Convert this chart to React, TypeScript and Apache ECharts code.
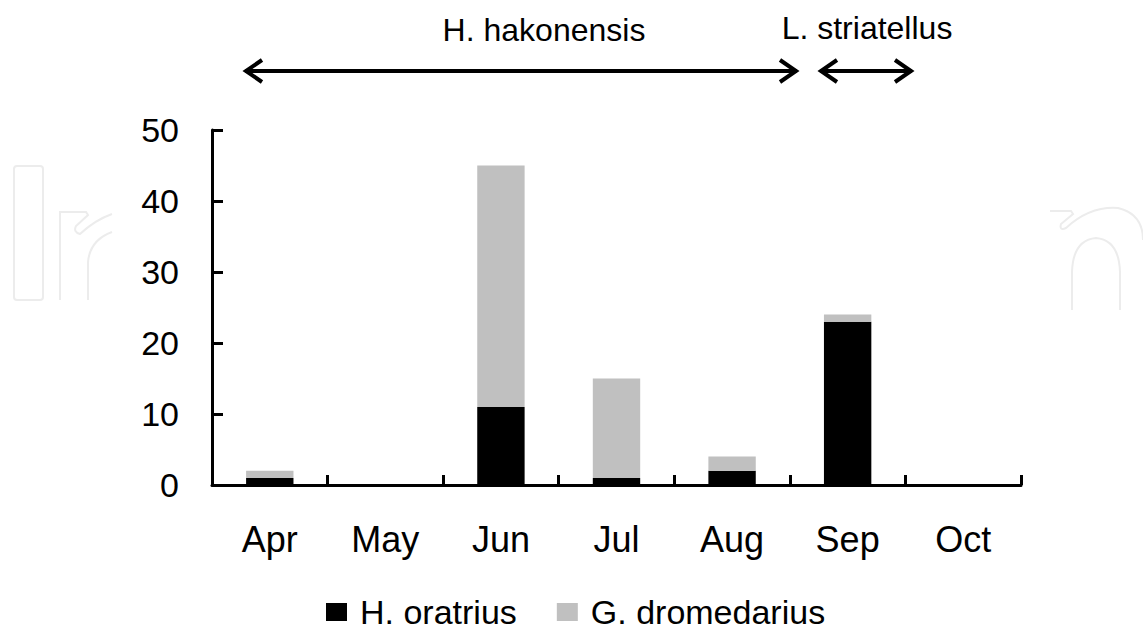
import React, { useEffect, useRef } from "react";
import * as echarts from "echarts";

const months = ["Apr", "May", "Jun", "Jul", "Aug", "Sep", "Oct"];
const hOratrius = [1, 0, 11, 1, 2, 23, 0];
const gDromedarius = [1, 0, 34, 14, 2, 1, 0];
const seriesNames = ["H. oratrius", "G. dromedarius"];
const yTicks = { min: 0, max: 50, interval: 10 };
const topLabels = ["H. hakonensis", "L. striatellus"];

const FONT = "'Liberation Sans', Arial, sans-serif";

echarts.graphic.registerShape(
  "wmR",
  echarts.graphic.extendPath(
    "M60 300 L60 212 L86 212 L88 215 L76 226 Q73 232 80 234 Q95 220 112 214 M88 300 L88 262 Q90 240 112 232",
    {}
  )
);
echarts.graphic.registerShape(
  "wmN",
  echarts.graphic.extendPath(
    "M1050 211 L1071 211 L1073 214 L1061 224 Q1059 231 1066 228 Q1090 206 1118 208 Q1143 214 1143 240 M1072 310 L1072 272 Q1073 240 1096 238 Q1119 240 1120 272 L1120 310",
    {}
  )
);

export default function App() {
  const ref = useRef<HTMLDivElement>(null);
  useEffect(() => {
    if (!ref.current) return;
    const chart = echarts.init(ref.current, null, { renderer: "svg" });
    const arrowStyle = { stroke: "#000", lineWidth: 4, fill: "none", lineJoin: "miter" };
    const y0 = 71;
    const arrow = (x1: number, x2: number) => [
      { type: "line", shape: { x1, y1: y0, x2, y2: y0 }, style: arrowStyle },
      {
        type: "polyline",
        shape: { points: [[x1 + 17, y0 - 11], [x1 + 1, y0], [x1 + 17, y0 + 11]] },
        style: arrowStyle,
      },
      {
        type: "polyline",
        shape: { points: [[x2 - 17, y0 - 11], [x2 - 1, y0], [x2 - 17, y0 + 11]] },
        style: arrowStyle,
      },
    ];
    const wm = { stroke: "#ececec", lineWidth: 2, fill: "none" };
    chart.setOption({
      animation: false,
      backgroundColor: "#fff",
      textStyle: { fontFamily: FONT },
      grid: { left: 212, right: 122, top: 130, bottom: 149 },
      legend: {
        data: seriesNames,
        left: 321,
        top: 590,
        icon: "rect",
        itemWidth: 21,
        itemHeight: 18,
        itemGap: 40,
        textStyle: { fontSize: 34, color: "#000", fontFamily: FONT, padding: [0, 0, 0, 8] },
      },
      xAxis: {
        type: "category",
        data: months,
        boundaryGap: true,
        axisLine: { show: true, lineStyle: { color: "#000", width: 3 } },
        axisTick: { show: true, inside: true, length: 10, interval: 0, lineStyle: { color: "#000", width: 3 } },
        axisLabel: { fontSize: 36, color: "#000", margin: 36, fontFamily: FONT, interval: 0 },
        splitLine: { show: false },
      },
      yAxis: {
        type: "value",
        min: yTicks.min,
        max: yTicks.max,
        interval: yTicks.interval,
        axisLine: { show: true, lineStyle: { color: "#000", width: 3 } },
        axisTick: { show: true, inside: true, length: 11, lineStyle: { color: "#000", width: 3 } },
        axisLabel: { fontSize: 34, color: "#000", margin: 33, fontFamily: FONT },
        splitLine: { show: false },
      },
      series: [
        {
          name: seriesNames[0],
          type: "bar",
          stack: "total",
          data: hOratrius,
          barWidth: "41%",
          itemStyle: { color: "#000" },
        },
        {
          name: seriesNames[1],
          type: "bar",
          stack: "total",
          data: gDromedarius,
          barWidth: "41%",
          itemStyle: { color: "#c0c0c0" },
        },
      ],
      graphic: [
        { type: "rect", shape: { x: 14, y: 166, width: 29, height: 134, r: 3 }, style: wm, z: -10 },
        { type: "wmR", style: wm, z: -10 },
        { type: "wmN", style: wm, z: -10 },
        ...arrow(245, 797),
        ...arrow(820, 912),
        {
          type: "text",
          x: 544,
          y: 30,
          style: { text: topLabels[0], font: `32px ${FONT}`, fill: "#000", align: "center", verticalAlign: "middle" },
        },
        {
          type: "text",
          x: 867,
          y: 28,
          style: { text: topLabels[1], font: `32px ${FONT}`, fill: "#000", align: "center", verticalAlign: "middle" },
        },
      ],
    });
    return () => chart.dispose();
  }, []);
  return (
    <div
      ref={ref}
      style={{ position: "absolute", left: 0, top: 0, width: 1143, height: 634 }}
    />
  );
}
